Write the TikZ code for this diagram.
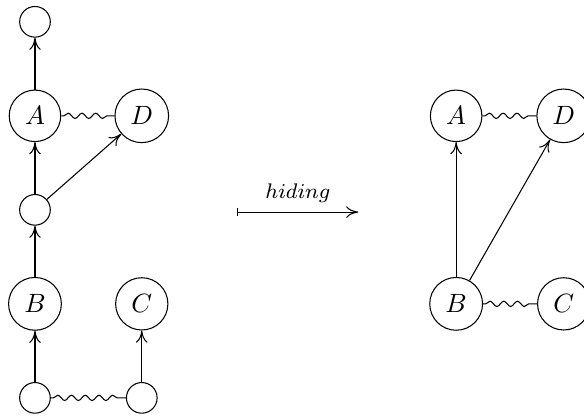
\documentclass[tikz,border=0pt]{standalone}
\usepackage{tikz}
\usetikzlibrary{arrows.meta, decorations.pathmorphing}

\begin{document}
\begin{tikzpicture}[
    vert/.style={circle, draw, inner sep=0.333em},
    blank/.style={circle, draw, minimum size=11.6pt, inner sep=0pt},
    arr/.style={-{Computer Modern Rightarrow[length=4.6pt, width=4.4pt]}},
    wavy/.style={decorate, decoration={snake, amplitude=1pt, segment length=5.2pt, pre length=1pt, post length=1pt}}
]
\useasboundingbox (-0.465,-0.24) rectangle (7.30,5.29);

% left graph
\node[blank] (top) at (0,5)    {};
\node[vert]  (A)   at (0,3.75) {$A$};
\node[vert]  (D)   at (1.42,3.75) {$D$};
\node[blank] (mid) at (0,2.5)  {};
\node[vert]  (B)   at (0,1.25) {$B$};
\node[vert]  (C)   at (1.42,1.25) {$C$};
\node[blank] (bl)  at (0,0)    {};
\node[blank] (br)  at (1.42,0) {};

\draw[arr] (A) -- (top);
\draw[arr] (mid) -- (A);
\draw[arr] (mid) -- (D);
\draw[arr] (B) -- (mid);
\draw[arr] (bl) -- (B);
\draw[arr] (br) -- (C);
\draw[wavy] (A) -- (D);
\draw[wavy] (bl) -- (br);

% hiding map
\coordinate (hs) at (2.69,2.47);
\coordinate (he) at (4.30,2.47);
\draw[{Bar[width=3.2pt]}-{Computer Modern Rightarrow[length=4.6pt, width=4.4pt]}] (hs) -- (he)
    node[midway, above] {\footnotesize $hiding$};

% right graph
\node[vert] (A2) at (5.6,3.75)  {$A$};
\node[vert] (D2) at (7.03,3.75) {$D$};
\node[vert] (B2) at (5.6,1.25)  {$B$};
\node[vert] (C2) at (7.03,1.25) {$C$};

\draw[arr] (B2) -- (A2);
\draw[arr] (B2) -- (D2);
\draw[wavy] (A2) -- (D2);
\draw[wavy] (B2) -- (C2);
\end{tikzpicture}
\end{document}
